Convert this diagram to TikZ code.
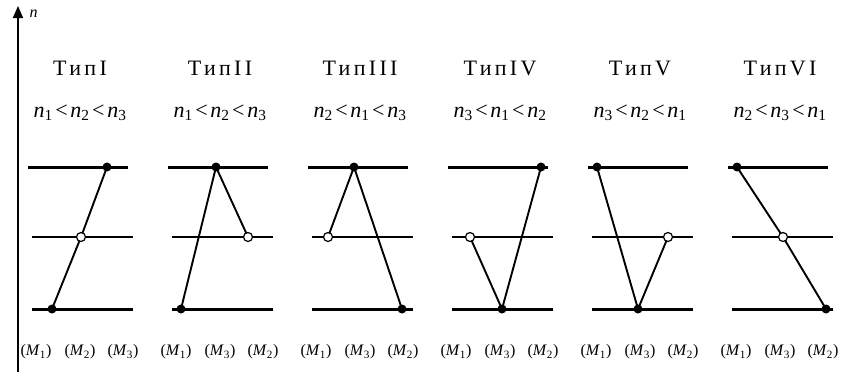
\documentclass[tikz,border=0pt]{standalone}
\usepackage{fontspec}
\setmainfont{Liberation Serif}
\newfontfamily\titlefont[LetterSpace=15]{Liberation Serif}
\usetikzlibrary{arrows.meta,backgrounds}
\newcommand{\nsub}[1]{\textit{n}\textsubscript{#1}}
\newcommand{\lt}{\hspace{0.12em}<\hspace{0.12em}}
\newcommand{\msub}[1]{(\textit{M}\textsubscript{#1})}
\begin{document}
\begin{tikzpicture}[x=1pt,y=-1pt,
  thickline/.style={line width=3pt},
  thinline/.style={line width=1.2pt},
  link/.style={line width=1.9pt},
  fulldot/.style={circle,fill=black,inner sep=0pt,minimum size=9pt},
  opendot/.style={circle,draw=black,fill=white,line width=1.2pt,inner sep=0pt,minimum size=9pt},
  titletext/.style={font=\titlefont\fontsize{22}{26}\selectfont},
  condtext/.style={font=\fontsize{22}{26}\selectfont},
  labtext/.style={font=\fontsize{16}{18}\selectfont}]
\useasboundingbox (0,0) rectangle (850,372);
\coordinate (axb) at (18,372);
\coordinate (axt) at (18,6);
\draw[line width=1.6pt,-{Triangle[length=12pt,width=10pt]}] (axb) -- (axt);
\node[labtext,anchor=west] (nlab) at (26,14) {\textit{n}};
\foreach \k/\ttl/\ca/\cb/\cc/\la/\lb/\lc/\pb/\pm/\pt/\ka/\kb/\kc in {
  0/ТипI/1/2/3/1/2/3/24/53/79/b/m/t,
  1/ТипII/1/2/3/1/3/2/13/80/48/b/t/m,
  2/ТипIII/2/1/3/1/3/2/94/20/46/m/t/b,
  3/ТипIV/3/1/2/1/3/2/54/22/93/m/b/t,
  4/ТипV/3/2/1/1/3/2/50/80/9/t/b/m,
  5/ТипVI/2/3/1/1/3/2/98/55/9/t/m/b} {
  \pgfmathsetmacro\xo{28+140*\k}
  \node[titletext] (ti\k) at (\xo+52,68) {\ttl};
  \node[condtext] (co\k) at (\xo+52,113) {\nsub{\ca}\lt\nsub{\cb}\lt\nsub{\cc}};
  \node[labtext] (la\k) at (\xo+8,352) {\msub{\la}};
  \node[labtext] (lb\k) at (\xo+52,352) {\msub{\lb}};
  \node[labtext] (lc\k) at (\xo+95,352) {\msub{\lc}};
  \coordinate (tl\k) at (\xo,167);
  \coordinate (tr\k) at (\xo+100,167);
  \coordinate (ml\k) at (\xo+4,237);
  \coordinate (mr\k) at (\xo+105,237);
  \coordinate (bl\k) at (\xo+4,309);
  \coordinate (br\k) at (\xo+105,309);
  \node[fulldot] (t\k) at (\xo+\pt,167) {};
  \node[opendot] (m\k) at (\xo+\pm,237) {};
  \node[fulldot] (b\k) at (\xo+\pb,309) {};
  \begin{scope}[on background layer]
    \draw[thickline] (tl\k) -- (tr\k);
    \draw[thinline] (ml\k) -- (mr\k);
    \draw[thickline] (bl\k) -- (br\k);
    \draw[link] (\ka\k.center) -- (\kb\k.center) -- (\kc\k.center);
  \end{scope}
}
\end{tikzpicture}
\end{document}
